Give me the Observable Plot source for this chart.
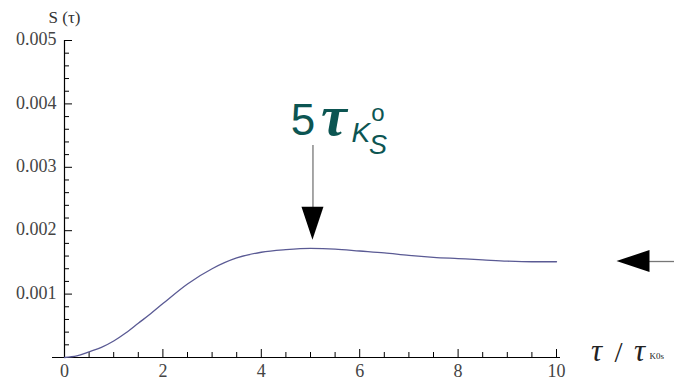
<!DOCTYPE html>
<html><head><meta charset="utf-8">
<script src="https://cdn.jsdelivr.net/npm/d3@7"></script>
<script src="https://cdn.jsdelivr.net/npm/@observablehq/plot@0.6"></script>
<style>body{margin:0;background:#fff;overflow:hidden}</style>
</head><body><div id="chart"></div>
<script>
// curve S(tau) vs tau / tau_K0s
const tau = [0,0.25,0.5,0.75,1,1.25,1.5,1.75,2,2.5,3,3.5,4,4.5,5,5.5,6,6.5,7,7.5,8,8.5,9,9.5,10];
const S   = [0,0.000025,0.00009,0.00016,0.00026,0.00039,0.00054,0.00069,0.00085,0.00116,0.00140,0.00157,0.00166,0.00170,0.00172,0.00171,0.00168,0.00165,0.00161,0.00158,0.00156,0.00154,0.00152,0.00151,0.00151];

const xTicks = [0,2,4,6,8,10];
const xMinor = [0.5,1,1.5,2.5,3,3.5,4.5,5,5.5,6.5,7,7.5,8.5,9,9.5];
const yTicks = [0.001,0.002,0.003,0.004,0.005];
const yMinor = [0.0002,0.0004,0.0006,0.0008,0.0012,0.0014,0.0016,0.0018,0.0022,0.0024,0.0026,0.0028,0.0032,0.0034,0.0036,0.0038,0.0042,0.0044,0.0046,0.0048];
const yTickLabels = ["0.001","0.002","0.003","0.004","0.005"];

// annotations (data units)
const peakX = 5.05, peakTailY = 0.00335, peakTipY = 0.00185;
const asymY = 0.001514, asymTipX = 11.23, asymTailX = 12.45;

const W = 674, H = 383, mL = 64, mR = 118, mT = 40, mB = 26;
const pxX = 10 / (W - mL - mR), pxY = 0.005 / (H - mT - mB);

const curve = tau.map((t, i) => ({t, s: S[i]}));
const serif = "Liberation Serif";
const sans = "Liberation Sans";
const teal = "#0c5552";

// arrowheads drawn through the plot scales
function heads(index, scales) {
  const g = d3.create("svg:g");
  const x1 = scales.x(peakX), y1 = scales.y(peakTipY);
  g.append("path").attr("d", `M${x1},${y1}L${x1-11},${y1-33}L${x1+11},${y1-33}Z`).attr("fill", "#000");
  const x2 = scales.x(asymTipX), y2 = scales.y(asymY);
  g.append("path").attr("d", `M${x2},${y2}L${x2+33},${y2-11}L${x2+33},${y2+11}Z`).attr("fill", "#000");
  return g.node();
}

const chart = Plot.plot({
  width: W, height: H,
  marginLeft: mL, marginRight: mR, marginTop: mT, marginBottom: mB,
  x: {domain: [0, 10], axis: null},
  y: {domain: [0, 0.005], axis: null},
  style: {fontFamily: serif, background: "#fff", overflow: "visible"},
  marks: [
    // axes lines
    Plot.ruleY([0], {x1: -12 * pxX, x2: 10 + 4 * pxX, stroke: "#000", strokeWidth: 1.2}),
    Plot.ruleX([0], {y1: 0, y2: 0.005, stroke: "#000", strokeWidth: 1.2}),
    // x ticks (inward)
    Plot.ruleX(xTicks, {x: d => d, y1: 0, y2: 8 * pxY, stroke: "#000"}),
    Plot.ruleX(xMinor, {x: d => d, y1: 0, y2: 5 * pxY, stroke: "#000"}),
    // y ticks (inward)
    Plot.ruleY(yTicks, {y: d => d, x1: 0, x2: 8 * pxX, stroke: "#000"}),
    Plot.ruleY(yMinor, {y: d => d, x1: 0, x2: 5 * pxX, stroke: "#000"}),
    // tick labels
    Plot.text(xTicks, {x: d => d, y: 0, text: d => String(d), dy: 14, fontSize: 18, fill: "#444", fontFamily: serif}),
    Plot.text(yTicks, {x: 0, y: d => d, text: (d, i) => yTickLabels[i], dx: -8, dy: -1, textAnchor: "end", fontSize: 18, fill: "#444", fontFamily: serif}),
    // y axis title
    Plot.text(["S (τ)"], {x: 0, y: 0.005, text: d => d, dy: -23, fontSize: 17, fill: "#333", fontFamily: serif}),
    // x axis title pieces
    Plot.text(["τ"], {x: 10, y: 0, text: d => d, dx: 40, dy: -6, fontSize: 31, fontStyle: "italic", fill: "#222", fontFamily: serif}),
    Plot.text(["/"], {x: 10, y: 0, text: d => d, dx: 62, dy: -5, fontSize: 29, fill: "#222", fontFamily: serif}),
    Plot.text(["τ"], {x: 10, y: 0, text: d => d, dx: 83, dy: -6, fontSize: 31, fontStyle: "italic", fill: "#222", fontFamily: serif}),
    Plot.text(["K0s"], {x: 10, y: 0, text: d => d, dx: 93, dy: 1, textAnchor: "start", lineAnchor: "bottom", fontSize: 9, fill: "#222", fontFamily: serif}),
    // curve
    Plot.line(curve, {x: "t", y: "s", stroke: "#5a5a94", strokeWidth: 1.3, curve: "monotone-x"}),
    // annotation arrows
    Plot.link([0], {x1: peakX, x2: peakX, y1: peakTailY, y2: peakTipY + 30 * pxY, stroke: "#777", strokeWidth: 1.3}),
    Plot.link([0], {x1: asymTipX + 30 * pxX, x2: asymTailX, y1: asymY, y2: asymY, stroke: "#777", strokeWidth: 1.3}),
    heads,
    // annotation label 5 τ_{K_S^0}
    Plot.text(["5"], {x: peakX, y: peakTailY, text: d => d, dx: -10, dy: -10, lineAnchor: "bottom", fontSize: 44, fill: teal, fontFamily: sans}),
    Plot.text(["τ"], {x: peakX, y: peakTailY, text: d => d, dx: 21, dy: -10, lineAnchor: "bottom", fontSize: 58, fontWeight: "bold", fontStyle: "italic", fill: teal, fontFamily: serif}),
    Plot.text(["K"], {x: peakX, y: peakTailY, text: d => d, dx: 48, dy: -3, lineAnchor: "bottom", fontSize: 28, fontStyle: "italic", fill: teal, fontFamily: sans}),
    Plot.text(["o"], {x: peakX, y: peakTailY, text: d => d, dx: 65, dy: -24, lineAnchor: "bottom", fontSize: 24, fill: teal, fontFamily: sans}),
    Plot.text(["S"], {x: peakX, y: peakTailY, text: d => d, dx: 65, dy: 9, lineAnchor: "bottom", fontSize: 27, fontStyle: "italic", fill: teal, fontFamily: sans})
  ]
});
document.getElementById("chart").append(chart);
</script>
</body></html>
